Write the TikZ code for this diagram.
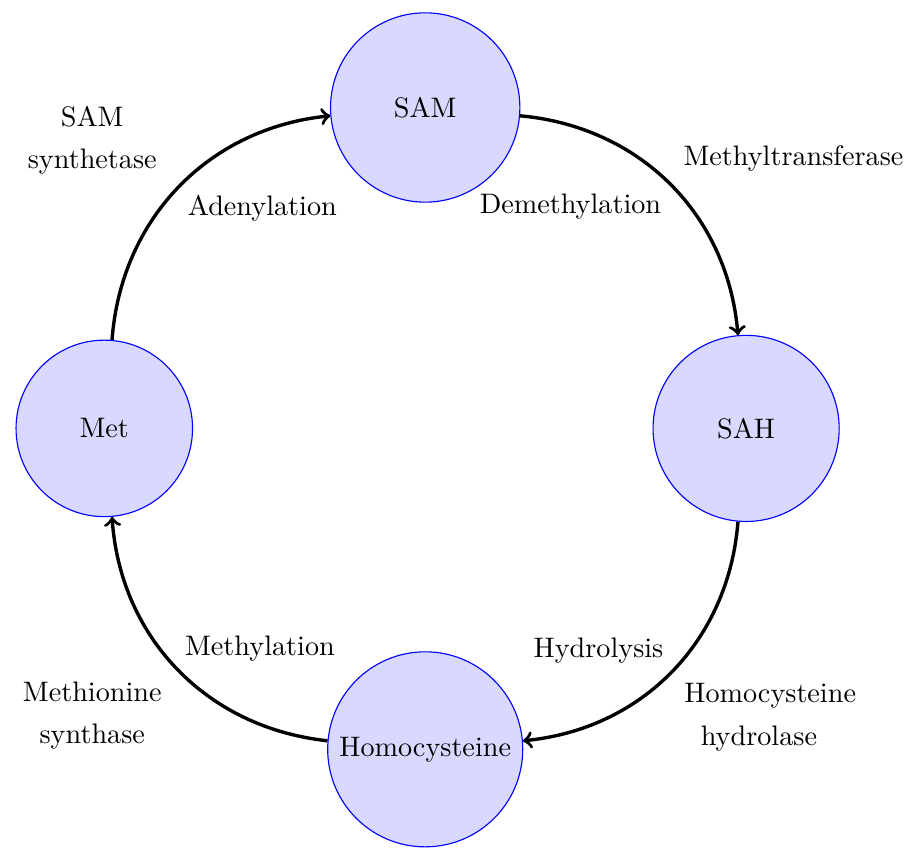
\documentclass[tikz,border=0pt]{standalone}
\usepackage{tikz}

\begin{document}
\begin{tikzpicture}[
    metab/.style={circle, draw=blue, fill=blue!15, minimum size=2.3cm},
    reac/.style={->, very thick, bend left=40},
    enzyme/.style={align=center}
  ]
    \useasboundingbox (-5.30, -5.26) rectangle (6.03, 5.34);
    \node [metab, minimum size=2.36cm] (SAM) at (0, 4) {SAM};
    \node [metab, minimum size=2.32cm] (SAH) at (4, 0) {SAH};
    \node [metab] (Hcy) at (0, -4) {Homocysteine};
    \node [metab, minimum size=2.2cm] (Met) at (-4, 0) {Met};
    \draw [reac] (Met) to (SAM);
    \draw [reac] (SAM) to (SAH);
    \draw [reac] (SAH) to (Hcy);
    \draw [reac] (Hcy) to (Met);
    \node [enzyme] (synthetase) at (-4.15, 3.59) {SAM\\[3pt] synthetase};
    \node (adenylation) at (-2.03, 2.74) {Adenylation};
    \node (transferase) at (4.59, 3.37) {Methyltransferase};
    \node (demethylation) at (1.81, 2.76) {Demethylation};
    \node (hydrolysis) at (2.16, -2.77) {Hydrolysis};
    \node [enzyme] (hydrolase) at (4.30, -3.60) {Homocysteine\\[3pt] hydrolase\hspace*{8pt}};
    \node (methylation) at (-2.06, -2.74) {Methylation};
    \node [enzyme] (synthase) at (-4.15, -3.58) {Methionine\\[3pt] synthase};
  \end{tikzpicture}
\end{document}
